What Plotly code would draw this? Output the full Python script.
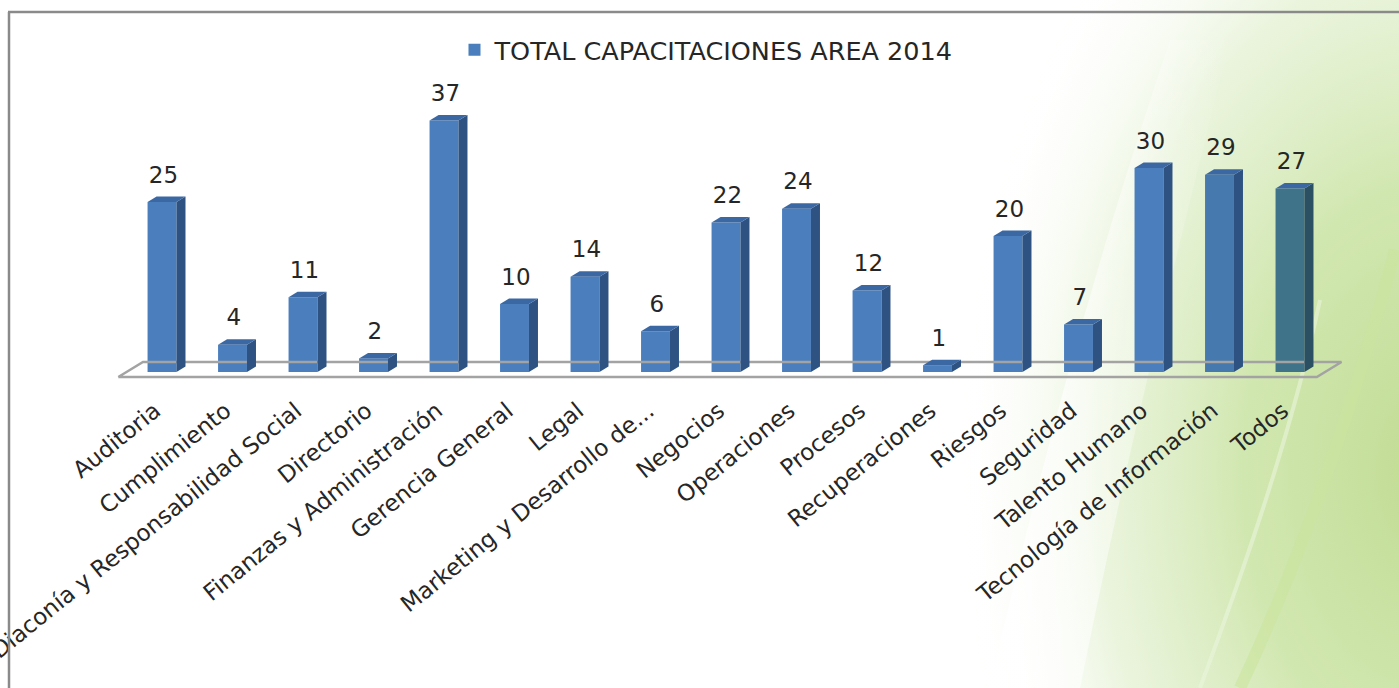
import base64
import plotly.graph_objects as go

categories = ["Auditoria", "Cumplimiento", "Diaconía y Responsabilidad Social", "Directorio",
              "Finanzas y Administración", "Gerencia General", "Legal", "Marketing y Desarrollo de...",
              "Negocios", "Operaciones", "Procesos", "Recuperaciones", "Riesgos", "Seguridad",
              "Talento Humano", "Tecnología de Información", "Todos"]
values = [25, 4, 11, 2, 37, 10, 14, 6, 22, 24, 12, 1, 20, 7, 30, 29, 27]
series_name = "TOTAL CAPACITACIONES AREA 2014"

W, H = 1399, 688
FONT = "DejaVu Sans"
front_colors = ["#4A7EBD"] * len(values)
front_colors[-2] = "#4679AE"
front_colors[-1] = "#3F7389"
side_colors = ["#2E5383"] * len(values)
side_colors[-1] = "#2B4F63"
top_color = "#3B68A3"

bar_w = 0.41
dx = 0.128   # depth offset in category units
dy = 0.8     # depth offset in value units
label_shift = -0.1
xr = [-2.298, 17.546]
yr = [-1.176, 54.706]
ydom = [0.4477, 1.0]

fig = go.Figure()

svg = f'''<svg xmlns="http://www.w3.org/2000/svg" width="{W}" height="{H}" viewBox="0 0 {W} {H}">
<defs>
<radialGradient id="g1" gradientUnits="userSpaceOnUse" cx="1430" cy="470" r="560"
 gradientTransform="translate(1430 470) scale(0.85 1.3) translate(-1430 -470)">
<stop offset="0" stop-color="#c1dc93" stop-opacity="1"/>
<stop offset="0.4" stop-color="#cfe6ad" stop-opacity="0.95"/>
<stop offset="0.7" stop-color="#e2f0cf" stop-opacity="0.7"/>
<stop offset="1" stop-color="#ffffff" stop-opacity="0"/>
</radialGradient>
<linearGradient id="g2" x1="0" y1="0" x2="1" y2="0">
<stop offset="0" stop-color="#ffffff" stop-opacity="0.9"/>
<stop offset="1" stop-color="#ffffff" stop-opacity="0"/>
</linearGradient>
</defs>
<rect width="{W}" height="{H}" fill="#ffffff"/>
<rect width="{W}" height="{H}" fill="url(#g1)"/>
<path d="M1170,40 C1110,220 1050,420 990,688 L1080,688 C1130,440 1180,240 1230,40 Z" fill="url(#g2)"/>
<path d="M1395,250 C1350,420 1300,560 1240,688" stroke="#cbe59f" stroke-width="12" fill="none" opacity="0.6"/>
<path d="M1320,300 C1290,440 1240,580 1200,688" stroke="#eaf5dc" stroke-width="4" fill="none" opacity="0.6"/>
</svg>'''
src = "data:image/svg+xml;base64," + base64.b64encode(svg.encode()).decode()

n = len(categories)
# floor
fx0 = -0.62
fl_x = [fx0, fx0 + n, fx0 + n + 0.35, fx0 + 0.35, fx0]
fl_y = [-0.74, -0.74, 1.47, 1.47, -0.74]
fig.add_trace(go.Scatter(x=fl_x, y=fl_y, mode="lines", line=dict(color="#A3A3A3", width=2.5),
                         showlegend=False, hoverinfo="skip"))

# front faces
fig.add_trace(go.Bar(x=list(range(n)), y=values, width=bar_w, name=series_name,
                     marker=dict(color=front_colors, line=dict(width=0))))

# side and top faces
for i, v in enumerate(values):
    r = i + bar_w / 2
    l = i - bar_w / 2
    fig.add_trace(go.Scatter(x=[r, r + dx, r + dx, r, r], y=[0, dy, v + dy, v, 0],
                             mode="lines", line=dict(width=0), fill="toself",
                             fillcolor=side_colors[i], showlegend=False, hoverinfo="skip"))
    fig.add_trace(go.Scatter(x=[l, r, r + dx, l + dx, l], y=[v, v, v + dy, v + dy, v],
                             mode="lines", line=dict(width=0), fill="toself",
                             fillcolor=top_color, showlegend=False, hoverinfo="skip"))

# data labels
fig.add_trace(go.Scatter(x=[i + 0.02 for i in range(n)], y=[v + dy + 1.2 for v in values],
                         mode="text", text=[str(v) for v in values], textposition="top center",
                         textfont=dict(family=FONT, size=23, color="#262626"),
                         showlegend=False, hoverinfo="skip"))

fig.update_layout(
    width=W, height=H,
    margin=dict(l=0, r=0, t=0, b=0),
    paper_bgcolor="#ffffff",
    plot_bgcolor="rgba(0,0,0,0)",
    font=dict(family=FONT, color="#262626"),
    showlegend=True,
    legend=dict(orientation="h", x=0.505, xanchor="center", y=0.927, yanchor="middle",
                font=dict(family=FONT, size=25.5, color="#262626"), bgcolor="rgba(0,0,0,0)",
                itemwidth=30),
    xaxis=dict(range=xr, domain=[0, 1], tickmode="array",
               tickvals=[i + label_shift for i in range(n)],
               ticktext=categories, tickangle=-39, showgrid=False, zeroline=False,
               showline=False, ticks="", automargin=False, ticklabelstandoff=12,
               ticklabeloverflow="allow",
               tickfont=dict(family=FONT, size=23, color="#262626")),
    yaxis=dict(range=yr, domain=ydom, visible=False, showgrid=False, zeroline=False,
               automargin=False),
    images=[dict(source=src, xref="paper", yref="paper", x=0, y=1, sizex=1, sizey=1,
                 xanchor="left", yanchor="top", sizing="stretch", layer="below")],
    shapes=[
        dict(type="line", xref="paper", yref="paper", x0=8 / W, x1=1, y0=1 - 12 / H, y1=1 - 12 / H,
             line=dict(color="#8A8A8A", width=2.5)),
        dict(type="line", xref="paper", yref="paper", x0=9 / W, x1=9 / W, y0=0, y1=1 - 12 / H,
             line=dict(color="#8A8A8A", width=2.5)),
    ],
)

fig.write_html("out.html")
